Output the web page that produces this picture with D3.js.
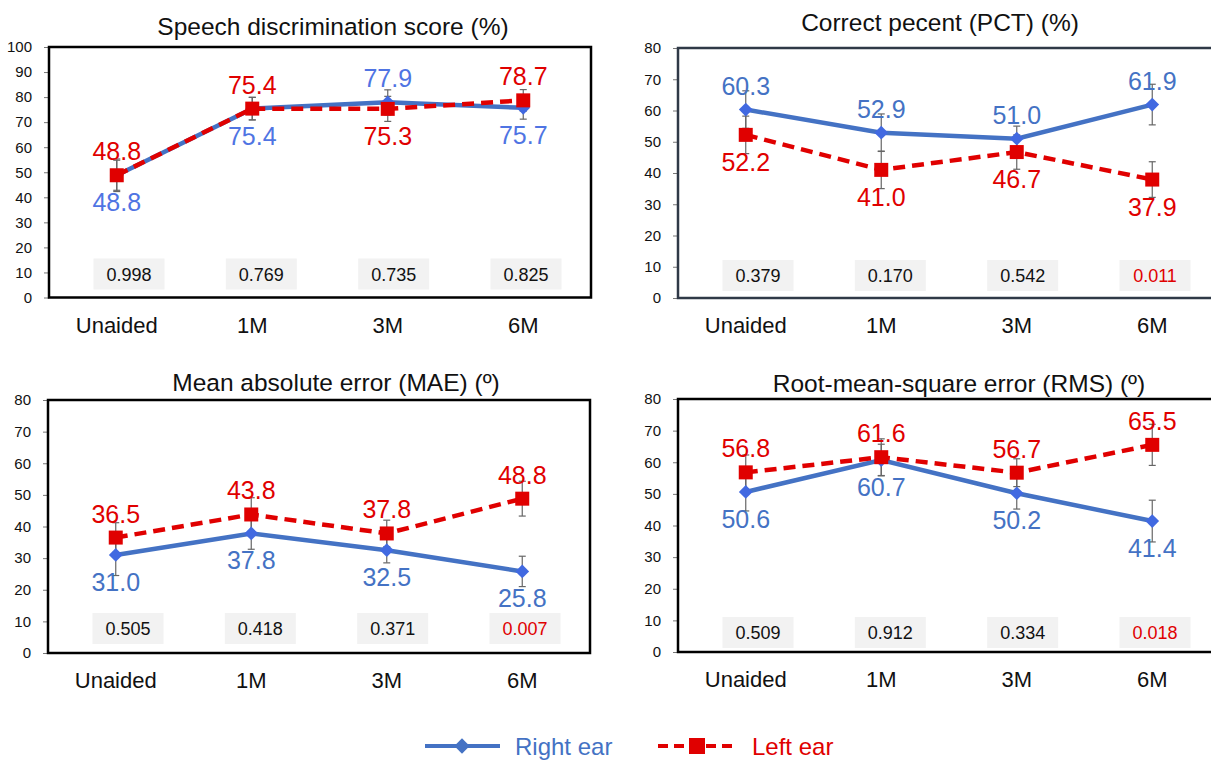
<!DOCTYPE html>
<html>
<head>
<meta charset="utf-8">
<script src="https://cdn.jsdelivr.net/npm/d3@7"></script>
<style>
  body { margin: 0; background: #fff; }
  svg { font-family: "Liberation Sans", Arial, sans-serif; }
</style>
</head>
<body>
<svg id="chart" width="1211" height="760"></svg>
<script>
// categories
const months = ['Unaided', '1M', '3M', '6M'];

// speech discrimination score
const sdsRight = [48.8, 75.4, 77.9, 75.7];
const sdsLeft = [48.8, 75.4, 75.3, 78.7];
const sdsRightErr = [6.5, 4.5, 5.0, 4.5];
const sdsLeftErr = [6.0, 4.5, 5.0, 4.3];
const sdsP = ['0.998', '0.769', '0.735', '0.825'];

// correct percent
const pctRight = [60.3, 52.9, 51.0, 61.9];
const pctLeft = [52.2, 41.0, 46.7, 37.9];
const pctRightErr = [6.0, 6.0, 4.0, 6.5];
const pctLeftErr = [6.0, 6.0, 5.5, 5.7];
const pctP = ['0.379', '0.170', '0.542', '0.011'];

// mean absolute error
const maeRight = [31.0, 37.8, 32.5, 25.8];
const maeLeft = [36.5, 43.8, 37.8, 48.8];
const maeRightErr = [6.5, 5.0, 4.0, 4.8];
const maeLeftErr = [4.7, 5.3, 4.2, 5.5];
const maeP = ['0.505', '0.418', '0.371', '0.007'];

// root mean square error
const rmsRight = [50.6, 60.7, 50.2, 41.4];
const rmsLeft = [56.8, 61.6, 56.7, 65.5];
const rmsRightErr = [6.0, 5.0, 5.0, 6.6];
const rmsLeftErr = [5.5, 5.8, 4.4, 6.5];
const rmsP = ['0.509', '0.912', '0.334', '0.018'];

const blue = '#4472C4';
const blueMark = '#4169E1';
const red = '#E00000';

let panels = [
  {title: 'Speech discrimination score (%)', right: sdsRight, left: sdsLeft,
   rightErr: sdsRightErr, leftErr: sdsLeftErr, p: sdsP, yMax: 100,
   x0: 49, y0: 47, h: 250.5, titleX: 333, titleY: 35, pGap: 8, border: '#000',
   rightPos: [1, 1, -1, 1], leftPos: [-1, -1, 1, -1], rightLabel: '#4F74E3'},
  {title: 'Correct pecent (PCT) (%)', right: pctRight, left: pctLeft,
   rightErr: pctRightErr, leftErr: pctLeftErr, p: pctP, yMax: 80,
   x0: 678, y0: 48, h: 250, titleX: 940, titleY: 31, pGap: 7, border: '#2f3947',
   rightPos: [-1, -1, -1, -1], leftPos: [1, 1, 1, 1], rightLabel: blue},
  {title: 'Mean absolute error (MAE) (º)', right: maeRight, left: maeLeft,
   rightErr: maeRightErr, leftErr: maeLeftErr, p: maeP, yMax: 80,
   x0: 48, y0: 400, h: 253, titleX: 336, titleY: 391, pGap: 9, border: '#000',
   rightPos: [1, 1, 1, 1], leftPos: [-1, -1, -1, -1], rightLabel: blue},
  {title: 'Root-mean-square error (RMS) (º)', right: rmsRight, left: rmsLeft,
   rightErr: rmsRightErr, leftErr: rmsLeftErr, p: rmsP, yMax: 80,
   x0: 678, y0: 399, h: 253, titleX: 959, titleY: 392, pGap: 4, border: '#000',
   rightPos: [1, 1, 1, 1], leftPos: [-1, -1, -1, -1], rightLabel: blue}
];

let svg = d3.select('#chart');
let panelWidth = 542;

let drawPanel = (panel) => {
  let g = svg.append('g').attr('transform', 'translate(' + panel.x0 + ',' + panel.y0 + ')');

  let x = d3.scalePoint().domain(months).range([0, panelWidth]).padding(0.5);
  let xP = d3.scalePoint().domain(months).range([80, panelWidth - 65]);
  let y = d3.scaleLinear().domain([0, panel.yMax]).range([panel.h, 0]);

  // title
  svg.append('text')
    .attr('x', panel.titleX)
    .attr('y', panel.titleY)
    .attr('text-anchor', 'middle')
    .attr('font-size', 24.5)
    .attr('fill', '#111')
    .text(panel.title);

  // y axis
  let yAxis = d3.axisLeft(y)
    .tickValues(d3.range(0, panel.yMax + 1, 10))
    .tickSize(5)
    .tickPadding(12);
  let ax = g.append('g').call(yAxis);
  ax.select('.domain').remove();
  ax.selectAll('.tick line').attr('stroke', '#777');
  ax.selectAll('.tick text')
    .attr('font-size', 15)
    .attr('fill', '#111')
    .attr('font-family', '"Liberation Sans", Arial, sans-serif');

  // x labels
  g.selectAll('.xlab')
    .data(months)
    .enter()
    .append('text')
    .attr('x', d => x(d))
    .attr('y', panel.h + 35)
    .attr('text-anchor', 'middle')
    .attr('font-size', 22)
    .attr('fill', '#111')
    .text(d => d);

  // p value boxes
  let pg = g.selectAll('.pbox')
    .data(panel.p)
    .enter()
    .append('g')
    .attr('transform', (d, i) => 'translate(' + xP(months[i]) + ',' + (panel.h - panel.pGap - 31) + ')');
  pg.append('rect')
    .attr('x', -35.5)
    .attr('width', 71)
    .attr('height', 31)
    .attr('fill', '#f2f2f2');
  pg.append('text')
    .attr('y', 22)
    .attr('text-anchor', 'middle')
    .attr('font-size', 18)
    .attr('fill', d => +d < 0.05 ? red : '#111')
    .text(d => d);

  let line = d3.line()
    .x((d, i) => x(months[i]))
    .y(d => y(d));

  g.append('path')
    .datum(panel.right)
    .attr('d', line)
    .attr('fill', 'none')
    .attr('stroke', blue)
    .attr('stroke-width', 4.5);

  g.append('path')
    .datum(panel.left)
    .attr('d', line)
    .attr('fill', 'none')
    .attr('stroke', red)
    .attr('stroke-width', 4.5)
    .attr('stroke-dasharray', '12,7');

  // error bars
  let bars = [];
  panel.right.forEach((v, i) => bars.push({i: i, v: v, e: panel.rightErr[i]}));
  panel.left.forEach((v, i) => bars.push({i: i, v: v, e: panel.leftErr[i]}));
  let eb = g.selectAll('.err')
    .data(bars)
    .enter()
    .append('g')
    .attr('stroke', '#666')
    .attr('stroke-width', 1.2);
  eb.append('line')
    .attr('x1', d => x(months[d.i]))
    .attr('x2', d => x(months[d.i]))
    .attr('y1', d => y(d.v - d.e))
    .attr('y2', d => y(d.v + d.e));
  eb.append('line')
    .attr('x1', d => x(months[d.i]) - 3.5)
    .attr('x2', d => x(months[d.i]) + 3.5)
    .attr('y1', d => y(d.v + d.e))
    .attr('y2', d => y(d.v + d.e));
  eb.append('line')
    .attr('x1', d => x(months[d.i]) - 3.5)
    .attr('x2', d => x(months[d.i]) + 3.5)
    .attr('y1', d => y(d.v - d.e))
    .attr('y2', d => y(d.v - d.e));

  // markers
  g.selectAll('.diamond')
    .data(panel.right)
    .enter()
    .append('path')
    .attr('d', d3.symbol(d3.symbolDiamond2, 120))
    .attr('transform', (d, i) => 'translate(' + x(months[i]) + ',' + y(d) + ')')
    .attr('fill', blueMark);

  g.selectAll('.square')
    .data(panel.left)
    .enter()
    .append('rect')
    .attr('x', (d, i) => x(months[i]) - 7)
    .attr('y', d => y(d) - 7)
    .attr('width', 14)
    .attr('height', 14)
    .attr('fill', red);

  // value labels
  g.selectAll('.rlab')
    .data(panel.right)
    .enter()
    .append('text')
    .attr('x', (d, i) => x(months[i]))
    .attr('y', (d, i) => y(d) + (panel.rightPos[i] > 0 ? 36 : -15))
    .attr('text-anchor', 'middle')
    .attr('font-size', 25)
    .attr('fill', panel.rightLabel)
    .text(d => d.toFixed(1));

  g.selectAll('.llab')
    .data(panel.left)
    .enter()
    .append('text')
    .attr('x', (d, i) => x(months[i]))
    .attr('y', (d, i) => y(d) + (panel.leftPos[i] > 0 ? 36 : -15))
    .attr('text-anchor', 'middle')
    .attr('font-size', 25)
    .attr('fill', red)
    .text(d => d.toFixed(1));

  // frame
  g.append('rect')
    .attr('width', panelWidth)
    .attr('height', panel.h)
    .attr('fill', 'none')
    .attr('stroke', panel.border)
    .attr('stroke-width', 2.5);
};

panels.forEach(drawPanel);

// legend
let legend = svg.append('g').attr('transform', 'translate(0,746)');
legend.append('line')
  .attr('x1', 425).attr('x2', 500)
  .attr('stroke', blue).attr('stroke-width', 4);
legend.append('path')
  .attr('d', d3.symbol(d3.symbolDiamond2, 150))
  .attr('transform', 'translate(462,0)')
  .attr('fill', blue);
legend.append('text')
  .attr('x', 515).attr('y', 9)
  .attr('font-size', 24)
  .attr('fill', blue)
  .text('Right ear');
legend.append('line')
  .attr('x1', 658).attr('x2', 735)
  .attr('stroke', red).attr('stroke-width', 4)
  .attr('stroke-dasharray', '10,6');
legend.append('rect')
  .attr('x', 689).attr('y', -8)
  .attr('width', 16).attr('height', 16)
  .attr('fill', red);
legend.append('text')
  .attr('x', 752).attr('y', 9)
  .attr('font-size', 24)
  .attr('fill', red)
  .text('Left ear');
</script>
</body>
</html>
